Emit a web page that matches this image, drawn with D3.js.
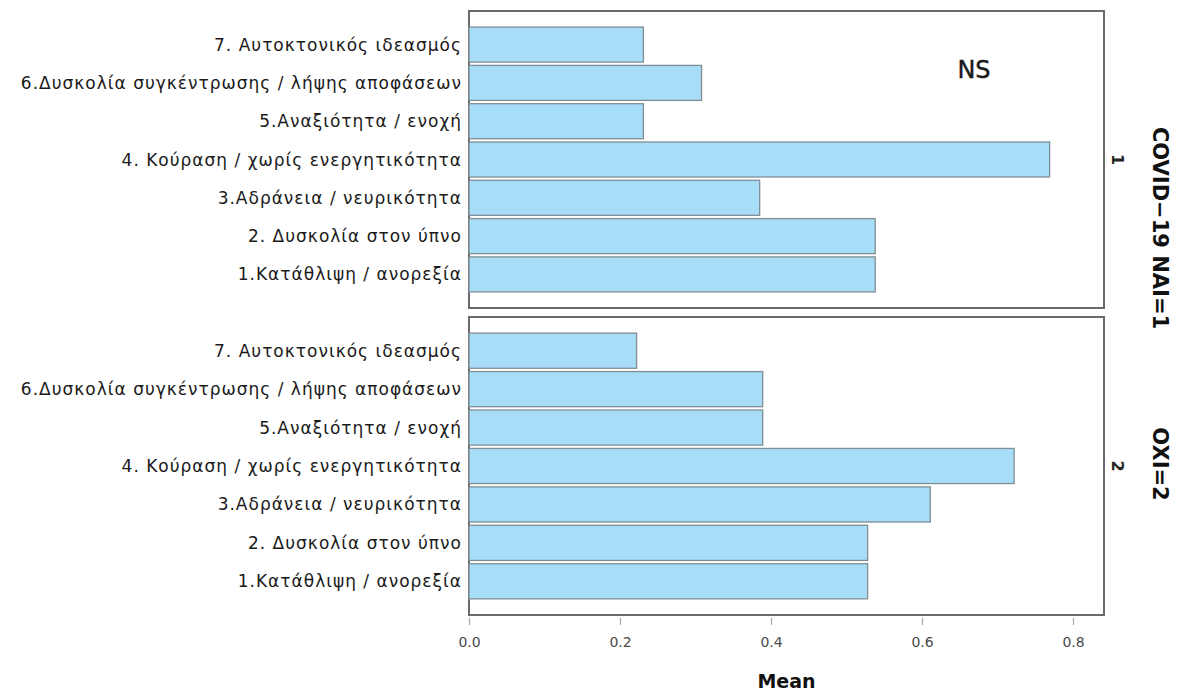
<!DOCTYPE html>
<html>
<head>
<meta charset="utf-8">
<script src="https://cdn.jsdelivr.net/npm/d3@7"></script>
<style>
  html, body { margin: 0; padding: 0; background: #fff; }
  svg { display: block; }
</style>
</head>
<body>
<svg id="chart" width="1179" height="693"></svg>
<script>
// ---- data ----
const categories = [
  "1.Κατάθλιψη / ανορεξία",
  "2. Δυσκολία στον ύπνο",
  "3.Αδράνεια / νευρικότητα",
  "4. Κούραση / χωρίς ενεργητικότητα",
  "5.Αναξιότητα / ενοχή",
  "6.Δυσκολία συγκέντρωσης / λήψης αποφάσεων",
  "7. Αυτοκτονικός ιδεασμός"
];
const panelCodes = ["1", "2"];
const panelLabels = ["COVID\u221219 NAI=1", "OXI=2"];
const valuesNai = [0.538, 0.538, 0.385, 0.769, 0.231, 0.308, 0.231];
const valuesOxi = [0.528, 0.528, 0.611, 0.722, 0.389, 0.389, 0.222];
const tickValues = [0.0, 0.2, 0.4, 0.6, 0.8];
const axisTitle = "Mean";
const annotation = "NS";

// ---- layout ----
const svg = d3.select("#chart");
const plotLeft = 469, plotRight = 1104;
const panels = [
  { top: 11, bottom: 308, values: valuesNai, code: panelCodes[0], label: panelLabels[0], labelY: 228 },
  { top: 317, bottom: 615, values: valuesOxi, code: panelCodes[1], label: panelLabels[1], labelY: 464 }
];

const x = d3.scaleLinear().domain([0, 0.8]).range([plotLeft, 1073]);

const barFill = "#a8ddf8";
const barStroke = "#7f8e95";
const frameStroke = "#6a6a6a";

panels.forEach(p => {
  const y = d3.scaleBand()
    .domain(categories.slice().reverse())
    .range([p.top, p.bottom])
    .paddingInner(0.086)
    .paddingOuter(0.42);

  const g = svg.append("g");

  g.append("rect")
    .attr("x", plotLeft).attr("y", p.top)
    .attr("width", plotRight - plotLeft).attr("height", p.bottom - p.top)
    .attr("fill", "#fff")
    .attr("stroke", frameStroke).attr("stroke-width", 2);

  g.selectAll("rect.bar")
    .data(categories.map((c, i) => ({ c, v: p.values[i] })))
    .join("rect")
    .attr("class", "bar")
    .attr("x", x(0))
    .attr("y", d => y(d.c))
    .attr("width", d => x(d.v) - x(0))
    .attr("height", y.bandwidth())
    .attr("fill", barFill)
    .attr("stroke", barStroke)
    .attr("stroke-width", 1.3);

  g.selectAll("text.cat")
    .data(categories)
    .join("text")
    .attr("class", "cat")
    .attr("x", plotLeft - 7)
    .attr("y", d => y(d) + y.bandwidth() / 2)
    .attr("text-anchor", "end")
    .attr("dominant-baseline", "central")
    .attr("font-family", "DejaVu Sans, sans-serif")
    .attr("font-size", 17)
    .attr("letter-spacing", 1)
    .attr("fill", "#1a1a1a")
    .text(d => d);

  const mid = (p.top + p.bottom) / 2;
  g.append("text")
    .attr("transform", `translate(1117,${mid}) rotate(90)`)
    .attr("text-anchor", "middle")
    .attr("dominant-baseline", "central")
    .attr("font-family", "DejaVu Sans, sans-serif")
    .attr("font-size", 16)
    .attr("font-weight", 600)
    .attr("fill", "#222")
    .text(p.code);

  g.append("text")
    .attr("transform", `translate(1160,${p.labelY}) rotate(90)`)
    .attr("text-anchor", "middle")
    .attr("dominant-baseline", "central")
    .attr("font-family", "DejaVu Sans, sans-serif")
    .attr("font-size", 21)
    .attr("font-weight", "bold")
    .attr("fill", "#111")
    .text(p.label);
});

svg.append("text")
  .attr("x", 974).attr("y", 78)
  .attr("text-anchor", "middle")
  .attr("font-family", "DejaVu Sans, sans-serif")
  .attr("font-size", 24)
  .attr("stroke", "#1a1a1a").attr("stroke-width", 0.4)
  .attr("fill", "#1a1a1a")
  .text(annotation);

const axis = svg.append("g")
  .attr("transform", "translate(0,618)")
  .call(d3.axisBottom(x).tickValues(tickValues).tickFormat(d3.format(".1f")).tickSize(7).tickPadding(12));
axis.select(".domain").remove();
axis.selectAll(".tick line").attr("stroke", "#aaa").attr("stroke-width", 1.2);
axis.selectAll(".tick text")
  .attr("font-family", "DejaVu Sans, sans-serif")
  .attr("font-size", 14)
  .attr("fill", "#4a4a4a");

svg.append("text")
  .attr("x", (plotLeft + plotRight) / 2).attr("y", 688)
  .attr("text-anchor", "middle")
  .attr("font-family", "DejaVu Sans, sans-serif")
  .attr("font-size", 19)
  .attr("font-weight", "bold")
  .attr("fill", "#111")
  .text(axisTitle);
</script>
</body>
</html>
